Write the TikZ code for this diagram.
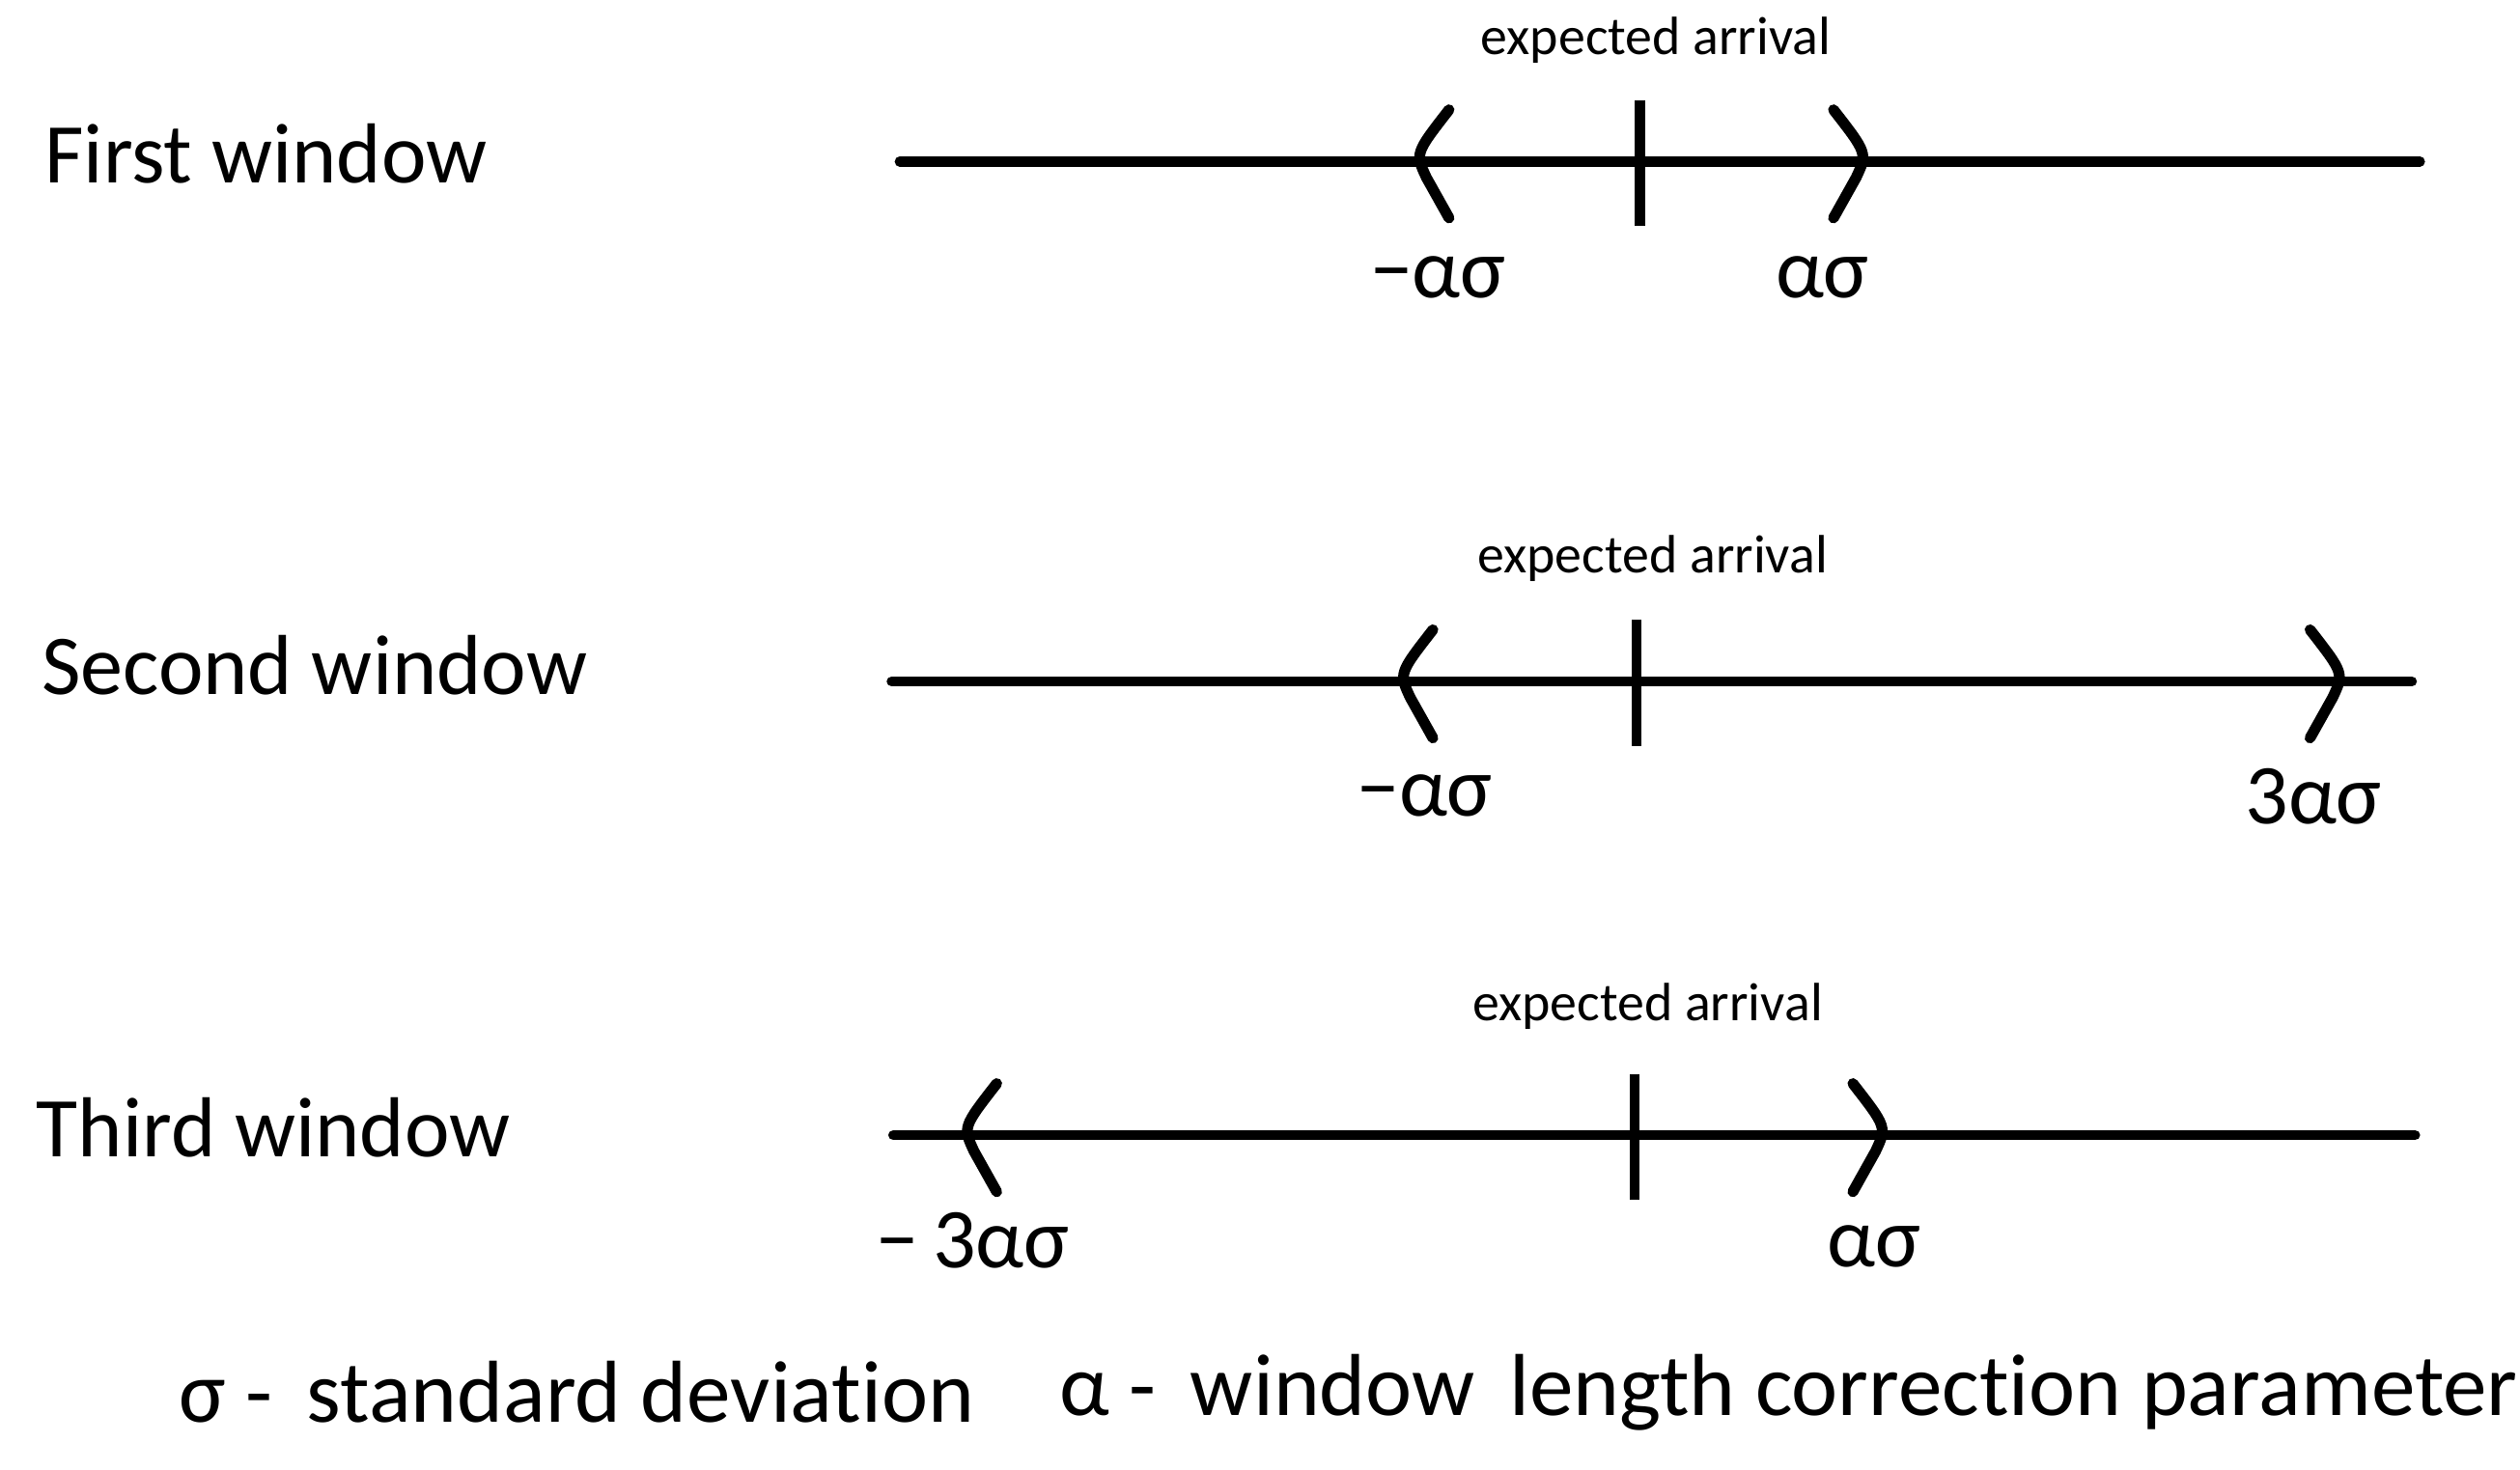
\documentclass[tikz,border=0pt]{standalone}
\usepackage{fontspec}
\setmainfont{Carlito}[Ligatures={NoCommon}]
\usetikzlibrary{positioning}

\begin{document}
\begin{tikzpicture}[
        axis/.style={line width=1.8pt, line cap=round},
        tick/.style={line width=1.8pt},
        bra/.style={line width=1.9pt, line cap=round, line join=round},
        title/.style={anchor=west, font=\fontsize{15}{18}\selectfont, inner sep=0pt},
        arrival/.style={font=\fontsize{9.5}{11}\selectfont, inner sep=0pt},
        bound/.style={font=\fontsize{15}{18}\selectfont, inner sep=0pt}
    ]
    \useasboundingbox (0,0) rectangle (15.6,9.1);

    % First window
    \node[title] (w1) at (0.27,8.15) {First window};
    \coordinate (a1) at (5.57,8.1);
    \coordinate (b1) at (14.98,8.1);
    \draw[axis] (a1) -- (b1);
    \draw[tick] (10.15,8.48) -- (10.15,7.7);
    \draw[bra] (8.97,8.42) .. controls (8.76,8.15) .. (8.83,8.0) -- (8.97,7.75);
    \draw[bra] (11.35,8.42) .. controls (11.56,8.15) .. (11.49,8.0) -- (11.35,7.75);
    \node[arrival] (e1) at (10.25,8.85) {expected arrival};
    \node[bound] (l1) at (8.9,7.38) {−ασ};
    \node[bound] (r1) at (11.28,7.38) {ασ};

    % Second window
    \node[title] (w2) at (0.25,4.98) {Second window};
    \coordinate (a2) at (5.52,4.88);
    \coordinate (b2) at (14.93,4.88);
    \draw[axis] (a2) -- (b2);
    \draw[tick] (10.13,5.26) -- (10.13,4.48);
    \draw[bra] (8.87,5.2) .. controls (8.66,4.93) .. (8.73,4.78) -- (8.87,4.53);
    \draw[bra] (14.3,5.2) .. controls (14.51,4.93) .. (14.44,4.78) -- (14.3,4.53);
    \node[arrival] (e2) at (10.23,5.64) {expected arrival};
    \node[bound] (l2) at (8.82,4.17) {−ασ};
    \node[bound] (r2) at (14.32,4.17) {3ασ};

    % Third window
    \node[title] (w3) at (0.22,2.12) {Third window};
    \coordinate (a3) at (5.53,2.07);
    \coordinate (b3) at (14.95,2.07);
    \draw[axis] (a3) -- (b3);
    \draw[tick] (10.12,2.45) -- (10.12,1.67);
    \draw[bra] (6.17,2.39) .. controls (5.96,2.12) .. (6.03,1.97) -- (6.17,1.72);
    \draw[bra] (11.47,2.39) .. controls (11.68,2.12) .. (11.61,1.97) -- (11.47,1.72);
    \node[arrival] (e3) at (10.2,2.87) {expected arrival};
    \node[bound] (l3) at (6.02,1.42) {−\,3ασ};
    \node[bound] (r3) at (11.6,1.38) {ασ};

    % Legend
    \node[title, font=\fontsize{15.5}{18}\selectfont] (sig) at (1.1,0.48) {σ -\, standard deviation};
    \node[title, font=\fontsize{15.5}{18}\selectfont] (alp) at (6.55,0.48) {α -\, window\, length correction parameter};
\end{tikzpicture}
\end{document}
